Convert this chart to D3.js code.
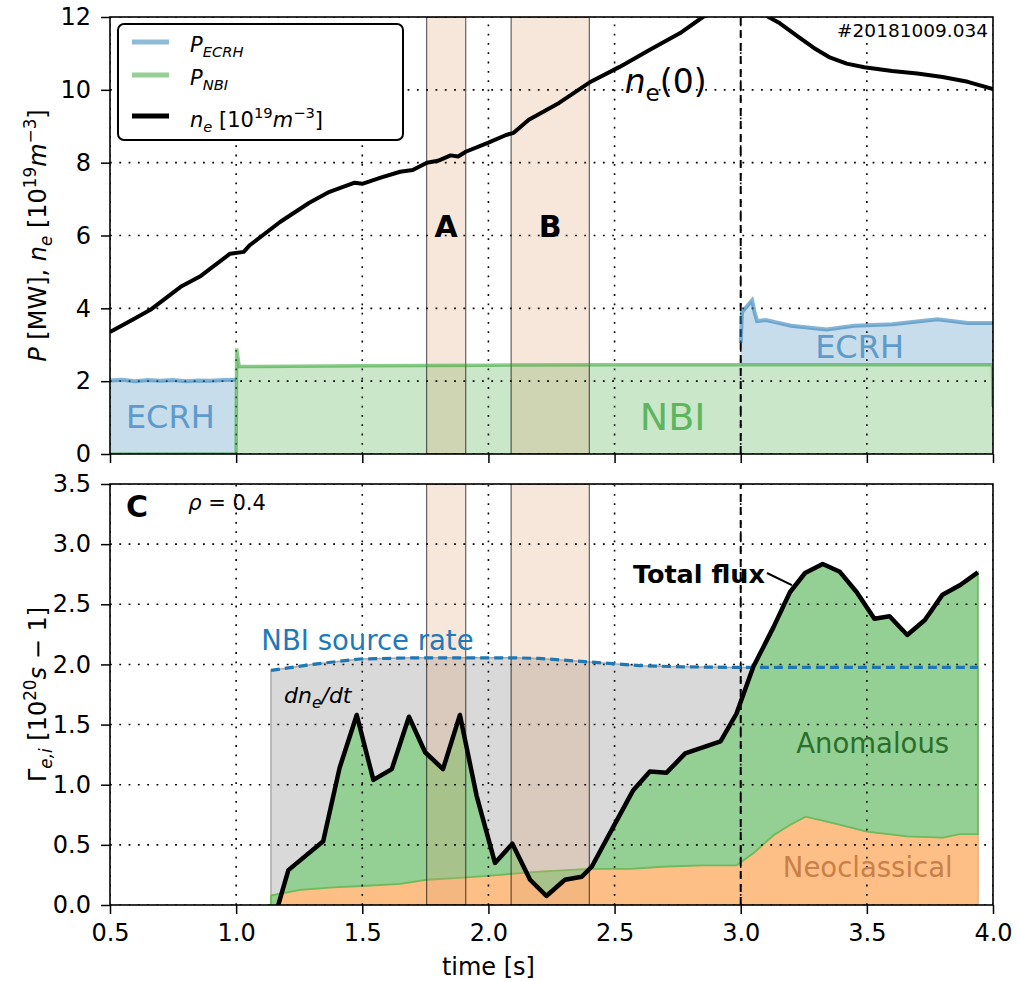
<!DOCTYPE html>
<html><head><meta charset="utf-8">
<script src="https://cdn.jsdelivr.net/npm/d3@7"></script>
<style>body{margin:0;background:#fff;} text{font-family:"DejaVu Sans",sans-serif;}</style>
</head><body><svg id="c" width="1018" height="981"></svg>
<script>
// ---------- data ----------
const pTime = [0.5,0.55,0.6,0.65,0.7,0.75,0.8,0.85,0.9,0.95,0.999,1.0,1.002,1.012,1.5,2.0,2.5,2.999,3.0,3.005,3.03,3.045,3.055,3.065,3.1,3.15,3.2,3.34,3.45,3.6,3.78,3.9,3.998,4.0];
const pNbi  = [0,0,0,0,0,0,0,0,0,0,0,0,2.9,2.4,2.42,2.44,2.45,2.45,2.45,2.45,2.45,2.45,2.45,2.45,2.45,2.45,2.45,2.45,2.45,2.45,2.45,2.45,2.45,1.3];
const pEcrh = [2.02,2.04,2.0,2.03,2.01,2.03,2.0,2.02,2.01,2.03,2.04,0,0,0,0,0,0,0,0.6,1.45,1.65,1.77,1.45,1.2,1.23,1.15,1.07,0.97,1.07,1.11,1.25,1.15,1.15,2.3];

const neTime = [0.5,0.6,0.66,0.78,0.86,0.976,1.03,1.055,1.174,1.29,1.37,1.47,1.5,1.57,1.65,1.7,1.756,1.8,1.85,1.88,1.91,2.0,2.07,2.1,2.16,2.28,2.4,2.52,2.64,2.76,2.85,2.95,3.05,3.11,3.15,3.23,3.29,3.35,3.42,3.49,3.6,3.7,3.8,3.9,4.0];
const neVal  = [3.35,3.73,3.96,4.59,4.89,5.5,5.55,5.74,6.37,6.9,7.2,7.45,7.42,7.58,7.75,7.8,8.0,8.05,8.2,8.17,8.3,8.55,8.76,8.82,9.18,9.64,10.2,10.63,11.1,11.56,12.0,12.3,12.3,12.0,11.85,11.45,11.15,10.9,10.72,10.62,10.52,10.45,10.35,10.22,10.02];

const fluxTime  = [1.138,1.207,1.345,1.41,1.478,1.544,1.617,1.685,1.749,1.82,1.887,1.953,2.026,2.095,2.165,2.23,2.303,2.37,2.41,2.495,2.574,2.64,2.706,2.78,2.85,2.92,2.983,3.05,3.13,3.195,3.255,3.325,3.393,3.46,3.53,3.59,3.66,3.73,3.80,3.87,3.94];
const totalFlux = [-0.21,0.29,0.53,1.14,1.58,1.04,1.13,1.565,1.27,1.13,1.58,0.91,0.35,0.51,0.21,0.075,0.21,0.235,0.32,0.65,0.955,1.11,1.10,1.26,1.31,1.36,1.59,1.98,2.31,2.60,2.76,2.835,2.77,2.60,2.38,2.40,2.245,2.37,2.58,2.66,2.765];

const neoTime = [1.138,1.253,1.385,1.517,1.65,1.755,1.914,2.046,2.15,2.204,2.40,2.56,2.706,2.85,2.983,3.05,3.13,3.195,3.257,3.367,3.50,3.66,3.80,3.87,3.94];
const neoFlux = [0.08,0.125,0.147,0.16,0.175,0.21,0.23,0.25,0.27,0.277,0.30,0.30,0.32,0.33,0.33,0.43,0.58,0.665,0.735,0.68,0.61,0.57,0.56,0.59,0.59];

const srcTime = [1.138,1.3,1.49,1.7,2.1,2.2,2.4,2.6,2.77,3.0,3.5,3.94];
const srcRate = [1.95,2.0,2.045,2.055,2.055,2.05,2.02,1.99,1.98,1.975,1.975,1.975];

const shadeStart = [1.755, 2.09];
const shadeEnd   = [1.91, 2.40];
const shadeLabel = ["A", "B"];

const xTicks = [0.5,1.0,1.5,2.0,2.5,3.0,3.5,4.0];
const yTopTicks = [0,2,4,6,8,10,12];
const yBotTicks = [0,0.5,1.0,1.5,2.0,2.5,3.0,3.5];

// ---------- setup ----------
const svg = d3.select("#c");
const L = 110, R = 993;
const x = d3.scaleLinear().domain([0.5, 4.0]).range([L, R]);
const yTop = d3.scaleLinear().domain([0, 12]).range([454, 17]);
const yBot = d3.scaleLinear().domain([0, 3.5]).range([905, 484]);

const defs = svg.append("defs");
function clip(id, y) {
  defs.append("clipPath").attr("id", id).append("rect")
    .attr("x", L).attr("y", y.range()[1]).attr("width", R - L).attr("height", y.range()[0] - y.range()[1]);
}
clip("clipTop", yTop); clip("clipBot", yBot);

function mathText(sel, parts, size) {
  let shift = 0;
  parts.forEach(p => {
    const target = p.sub ? size * 0.24 : p.sup ? -size * 0.4 : 0;
    const ts = sel.append("tspan").text(p.t).attr("dy", target - shift)
      .style("font-size", ((p.sub || p.sup) ? size * 0.7 : size) + "px");
    if (p.i) ts.style("font-style", "italic");
    shift = target;
  });
}

function gridAndBoxes(g, y, yticks) {
  shadeStart.forEach((s, i) => {
    g.append("rect").attr("x", x(s)).attr("width", x(shadeEnd[i]) - x(s))
      .attr("y", y.range()[1]).attr("height", y.range()[0] - y.range()[1])
      .attr("fill", "rgb(222,160,110)").attr("fill-opacity", 0.25)
      .attr("stroke", "#000").attr("stroke-opacity", 0.6).attr("stroke-width", 1.2);
  });
  xTicks.forEach(t => g.append("line").attr("x1", x(t)).attr("x2", x(t))
    .attr("y1", y.range()[0]).attr("y2", y.range()[1])
    .attr("stroke", "#000").attr("stroke-width", 1.6).attr("stroke-dasharray", "1.8,7.5"));
  yticks.forEach(v => g.append("line").attr("x1", L).attr("x2", R)
    .attr("y1", y(v)).attr("y2", y(v))
    .attr("stroke", "#000").attr("stroke-width", 1.6).attr("stroke-dasharray", "1.8,7.5"));
  g.append("line").attr("x1", x(3.0)).attr("x2", x(3.0))
    .attr("y1", y.range()[0]).attr("y2", y.range()[1])
    .attr("stroke", "#000").attr("stroke-width", 2).attr("stroke-dasharray", "8,5");
}

function axes(y, yticks, fmt, showX) {
  const gy = svg.append("g").attr("transform", `translate(${L},0)`)
    .call(d3.axisLeft(y).tickValues(yticks).tickFormat(fmt).tickSize(9).tickPadding(10));
  gy.select(".domain").remove();
  gy.selectAll("line").attr("stroke-width", 1.5);
  gy.selectAll("text").style("font-size", "24px").style("font-family", "DejaVu Sans").attr("fill", "#000");
  const gx = svg.append("g").attr("transform", `translate(0,${y.range()[0]})`)
    .call(d3.axisBottom(x).tickValues(xTicks).tickFormat(showX ? d3.format(".1f") : () => "").tickSize(9).tickPadding(10));
  gx.select(".domain").remove();
  gx.selectAll("line").attr("stroke-width", 1.5);
  gx.selectAll("text").style("font-size", "24px").style("font-family", "DejaVu Sans").attr("fill", "#000");
  svg.append("rect").attr("x", L).attr("y", y.range()[1]).attr("width", R - L)
    .attr("height", y.range()[0] - y.range()[1]).attr("fill", "none")
    .attr("stroke", "#000").attr("stroke-width", 1.6);
}

// ---------- top panel ----------
const pData = pTime.map((t, i) => ({t, nbi: pNbi[i], ecrh: pEcrh[i]}));
const gTop = svg.append("g").attr("clip-path", "url(#clipTop)");
gTop.append("path").datum(pData)
  .attr("d", d3.area().x(d => x(d.t)).y0(yTop(0)).y1(d => yTop(d.nbi)))
  .attr("fill", "rgb(202,231,202)");
gTop.append("path").datum(pData)
  .attr("d", d3.area().x(d => x(d.t)).y0(d => yTop(d.nbi)).y1(d => yTop(d.nbi + d.ecrh)))
  .attr("fill", "rgb(199,221,236)");
gridAndBoxes(gTop, yTop, yTopTicks);
gTop.append("path").datum(pData)
  .attr("d", d3.line().x(d => x(d.t)).y(d => yTop(d.nbi)))
  .attr("fill", "none").attr("stroke", "rgb(44,160,44)").attr("stroke-opacity", 0.55).attr("stroke-width", 3.5);
gTop.append("path").datum(pData)
  .attr("d", d3.line().defined(d => d.ecrh > 0).x(d => x(d.t)).y(d => yTop(d.nbi + d.ecrh)))
  .attr("fill", "none").attr("stroke", "rgb(31,119,180)").attr("stroke-opacity", 0.55).attr("stroke-width", 4);
gTop.append("path").datum(neTime.map((t, i) => [t, neVal[i]]))
  .attr("d", d3.line().x(d => x(d[0])).y(d => yTop(d[1])))
  .attr("fill", "none").attr("stroke", "#000").attr("stroke-width", 4).attr("stroke-linejoin", "round");

// top texts
svg.append("text").attr("x", x(0.563)).attr("y", yTop(0.72)).text("ECRH")
  .style("font-size", "32px").attr("fill", "#5e9bcb");
svg.append("text").attr("x", x(3.295)).attr("y", yTop(2.63)).text("ECRH")
  .style("font-size", "32px").attr("fill", "#5e9bcb");
svg.append("text").attr("x", x(2.6)).attr("y", yTop(0.66)).text("NBI")
  .style("font-size", "38px").attr("fill", "#5db65d");
shadeStart.forEach((s, i) => svg.append("text")
  .attr("x", x((s + shadeEnd[i]) / 2)).attr("y", yTop(5.97)).attr("text-anchor", "middle")
  .text(shadeLabel[i]).style("font-size", "30px").style("font-weight", "bold"));
mathText(svg.append("text").attr("x", x(2.54)).attr("y", yTop(9.9)),
  [{t: "n", i: true}, {t: "e", sub: true}, {t: "(0)"}], 33);
svg.append("text").attr("x", x(3.98)).attr("y", yTop(11.46)).attr("text-anchor", "end")
  .text("#20181009.034").style("font-size", "18.5px");

axes(yTop, yTopTicks, d3.format("d"), false);

// legend
const lg = svg.append("g");
lg.append("rect").attr("x", 118).attr("y", 24).attr("width", 285).attr("height", 116).attr("rx", 6)
  .attr("fill", "#fff").attr("stroke", "#000").attr("stroke-width", 2);
const legItems = [
  {c: "rgba(31,119,180,0.5)", y: 42, parts: [{t: "P", i: true}, {t: "ECRH", i: true, sub: true}]},
  {c: "rgba(44,160,44,0.5)", y: 75, parts: [{t: "P", i: true}, {t: "NBI", i: true, sub: true}]},
  {c: "#000", y: 116, ty: 126.5, parts: [{t: "n", i: true}, {t: "e", i: true, sub: true}, {t: " [10"}, {t: "19", sup: true}, {t: "m", i: true}, {t: "−3", sup: true}, {t: "]"}]}
];
legItems.forEach(it => {
  lg.append("line").attr("x1", 132).attr("x2", 169).attr("y1", it.y).attr("y2", it.y)
    .attr("stroke", it.c).attr("stroke-width", 5);
  mathText(lg.append("text").attr("x", 190).attr("y", it.ty || it.y + 9.5), it.parts, 21);
});

// ---------- bottom panel ----------
const gBot = svg.append("g").attr("clip-path", "url(#clipBot)");
const srcData = srcTime.map((t, i) => [t, srcRate[i]]);
const totData = fluxTime.map((t, i) => [t, totalFlux[i]]);
const neoData = neoTime.map((t, i) => [t, neoFlux[i]]);
gBot.append("path").datum(srcData)
  .attr("d", d3.area().x(d => x(d[0])).y0(yBot(0)).y1(d => yBot(d[1])))
  .attr("fill", "#d9d9d9").attr("stroke", "#aaaaaa").attr("stroke-width", 1.5);
gBot.append("path").datum(neoData)
  .attr("d", d3.area().x(d => x(d[0])).y0(yBot(0)).y1(d => yBot(d[1])))
  .attr("fill", "#fdbf86").attr("stroke", "#fdae6b").attr("stroke-width", 1.5);
const poly = totData.concat(neoData.slice().reverse());
gBot.append("path").datum(poly)
  .attr("d", d3.line().x(d => x(d[0])).y(d => yBot(d[1])).curve(d3.curveLinearClosed))
  .attr("fill", "#94cf94").attr("stroke", "#6dbb5f").attr("stroke-width", 1.8);
gridAndBoxes(gBot, yBot, yBotTicks);
gBot.append("path").datum(srcData)
  .attr("d", d3.line().x(d => x(d[0])).y(d => yBot(d[1])))
  .attr("fill", "none").attr("stroke", "#1f77b4").attr("stroke-width", 3.2).attr("stroke-dasharray", "9,5");
gBot.append("path").datum(totData)
  .attr("d", d3.line().x(d => x(d[0])).y(d => yBot(d[1])))
  .attr("fill", "none").attr("stroke", "#000").attr("stroke-width", 4.5).attr("stroke-linejoin", "round");

// bottom texts
svg.append("text").attr("x", x(0.563)).attr("y", yBot(3.225)).text("C")
  .style("font-size", "30px").style("font-weight", "bold");
mathText(svg.append("text").attr("x", x(0.81)).attr("y", yBot(3.28)),
  [{t: "ρ", i: true}, {t: " = 0.4"}], 21);
svg.append("text").attr("x", x(1.1)).attr("y", yBot(2.12)).text("NBI source rate")
  .style("font-size", "27.5px").attr("fill", "#2079b8");
mathText(svg.append("text").attr("x", x(1.19)).attr("y", yBot(1.68)),
  [{t: "dn", i: true}, {t: "e", i: true, sub: true}, {t: "/dt", i: true}], 22);
svg.append("text").attr("x", x(3.096)).attr("y", yBot(2.68)).attr("text-anchor", "end")
  .text("Total flux").style("font-size", "25.5px").style("font-weight", "bold");
svg.append("line").attr("x1", x(3.104)).attr("y1", yBot(2.76)).attr("x2", x(3.203)).attr("y2", yBot(2.66))
  .attr("stroke", "#000").attr("stroke-width", 2);
svg.append("text").attr("x", x(3.22)).attr("y", yBot(1.26)).text("Anomalous")
  .style("font-size", "27.5px").attr("fill", "#2a6e2a");
svg.append("text").attr("x", x(3.167)).attr("y", yBot(0.235)).text("Neoclassical")
  .style("font-size", "27.5px").attr("fill", "#c98048");

axes(yBot, yBotTicks, d3.format(".1f"), true);

// axis labels
svg.append("text").attr("x", x(2.0)).attr("y", 975).attr("text-anchor", "middle")
  .text("time [s]").style("font-size", "24px");
mathText(svg.append("text").attr("transform", `translate(46,${(yTop.range()[0] + yTop.range()[1]) / 2}) rotate(-90)`).attr("text-anchor", "middle"),
  [{t: "P", i: true}, {t: " [MW], "}, {t: "n", i: true}, {t: "e", i: true, sub: true}, {t: " [10"}, {t: "19", sup: true}, {t: "m", i: true}, {t: "−3", sup: true}, {t: "]"}], 24);
mathText(svg.append("text").attr("transform", `translate(46,${(yBot.range()[0] + yBot.range()[1]) / 2}) rotate(-90)`).attr("text-anchor", "middle"),
  [{t: "Γ"}, {t: "e,i", i: true, sub: true}, {t: " [10"}, {t: "20", sup: true}, {t: "s", i: true}, {t: " − 1]"}], 24);
</script></body></html>
